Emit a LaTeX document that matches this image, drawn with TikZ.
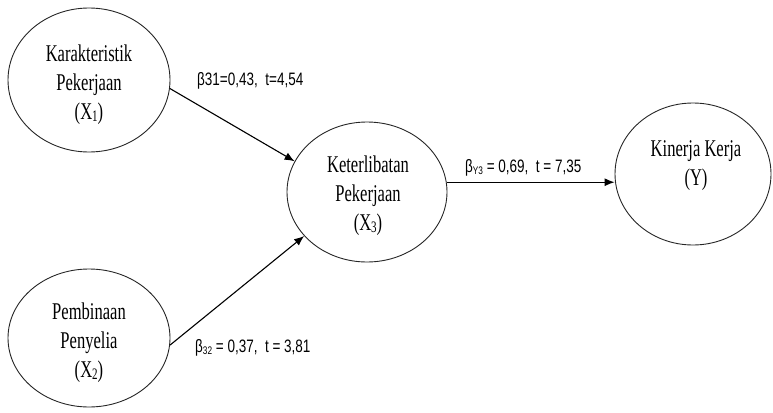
\documentclass[tikz,border=0pt]{standalone}
\usepackage{fontspec}
\usetikzlibrary{shapes.geometric,arrows.meta}
\newfontfamily\varfont[FakeStretch=0.69]{Liberation Serif}
\newfontfamily\labfont[FakeStretch=0.75]{Liberation Sans}
\newcommand\varsub[1]{\raisebox{-2pt}{\fontsize{16}{16}\selectfont #1}}
\newcommand\labsub[1]{\raisebox{-2.5pt}{\fontsize{11}{11}\selectfont #1}}
\begin{document}
\begin{tikzpicture}[x=1pt,y=-1pt,
  var/.style={ellipse, draw=black!85, line width=0.9pt, inner sep=0pt},
  vartext/.style={align=center, inner sep=0pt, font=\varfont\fontsize{24}{29}\selectfont},
  lab/.style={inner sep=0pt, anchor=base west, font=\labfont\fontsize{18}{20}\selectfont},
  arr/.style={line width=1.1pt, -{Latex[length=10pt,width=8pt]}}]
\useasboundingbox (0,0) rectangle (773,412);
\node[var, minimum width=162pt, minimum height=144pt] (x1) at (89,80) {};
\node[var, minimum width=162pt, minimum height=138pt] (x2) at (89,338) {};
\node[var, minimum width=160pt, minimum height=140pt] (x3) at (367,192) {};
\node[var, minimum width=156pt, minimum height=142pt] (y) at (693,174) {};
\node[vartext] (x1t) at (89,85) {Karakteristik\\Pekerjaan\\(X\varsub{1})};
\node[vartext] (x2t) at (89,343) {Pembinaan\\Penyelia\\(X\varsub{2})};
\node[vartext] (x3t) at (368,196) {Keterlibatan\\Pekerjaan\\(X\varsub{3})};
\node[vartext] (yt) at (696,166) {Kinerja Kerja\\(Y)};
\draw[arr] (x1.-6) -- (x3.157);
\draw[arr] (x2.-5) -- (x3.215);
\draw[arr] (x3.7) -- (x3.7 -| y.west);
\node[lab] (b31) at (197,85) {β31=0,43, \ t=4,54};
\node[lab] (by3) at (465,172) {β\labsub{Y3} = 0,69, \ t = 7,35};
\node[lab] (b32) at (195,352) {β\labsub{32} = 0,37, \ t = 3,81};
\end{tikzpicture}
\end{document}
